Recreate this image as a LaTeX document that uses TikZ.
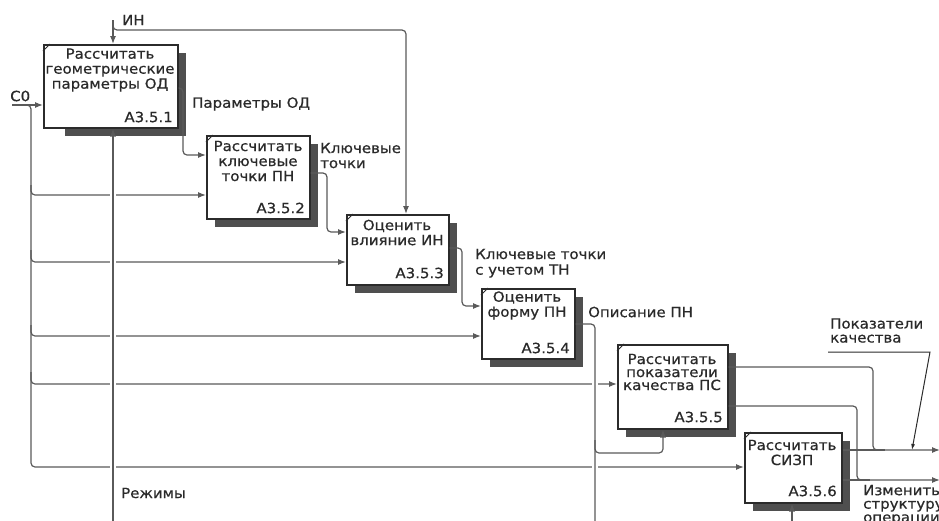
\documentclass[tikz,border=0pt]{standalone}
\usepackage{fontspec}
\setmainfont{DejaVu Sans}[FakeStretch=1.07, FakeBold=0.6]
\usetikzlibrary{arrows.meta}
\definecolor{lnc}{HTML}{5A5A5A}
\definecolor{bxc}{HTML}{2B2B2B}
\definecolor{shc}{HTML}{4F4F4F}
\definecolor{txc}{HTML}{2A2A2A}
\newcommand\fsz{\fontsize{14}{15}\selectfont}
\newcommand\idefbox[6]{%
  \fill[shc] (#2+#6,#3+9) rectangle (#4+9,#5+9);
  \node[boxst, minimum width={#4-#2}, minimum height={#5-#3}, anchor=north west] (#1) at (#2,#3) {};
  \draw[bxc, line width=0.8pt] (#2,#3+7) -- (#2+7,#3);
}
\begin{document}
\begin{tikzpicture}[x=1pt,y=-1pt,
  boxst/.style={draw=bxc, fill=white, line width=1.5pt, inner sep=0pt},
  txt/.style={text=txc, font=\fsz, inner sep=0pt},
  conn/.style={draw=lnc, line width=1.2pt, rounded corners=4pt},
  arr/.style={conn, -{Latex[length=8pt,width=6pt]}},
  gap/.style={draw=white, line width=6pt}
]
\clip (0,0) rectangle (939,520);
\fill[white] (0,0) rectangle (939,520);

% boxes
\idefbox{b1}{43}{44}{177}{127}{22}
\idefbox{b2}{206}{135}{309}{218}{9}
\idefbox{b3}{346}{214}{448}{284}{9}
\idefbox{b4}{481}{288}{574}{358}{9}
\idefbox{b5}{617}{344}{727}{428}{9}
\idefbox{b6}{744}{432}{841}{502}{9}

% box texts
\node[txt, align=center] (t1) at (110,70) {Рассчитать\\геометрические\\параметры ОД};
\node[txt, align=center] (t2) at (258,161) {Рассчитать\\ключевые\\точки ПН};
\node[txt, align=center] (t3) at (397,232.5) {Оценить\\влияние ИН};
\node[txt, align=center] (t4) at (527,305.5) {Оценить\\форму ПН};
\node[txt, align=center, font=\fontsize{14}{13}\selectfont] (t5) at (672,372) {Рассчитать\\показатели\\качества ПС};
\node[txt, align=center] (t6) at (792,452.5) {Рассчитать\\СИЗП};
\node[txt, anchor=east] (n1) at (173,117) {A3.5.1};
\node[txt, anchor=east] (n2) at (305,208) {A3.5.2};
\node[txt, anchor=east] (n3) at (444,273) {A3.5.3};
\node[txt, anchor=east] (n4) at (570,348) {A3.5.4};
\node[txt, anchor=east] (n5) at (723,417) {A3.5.5};
\node[txt, anchor=east] (n6) at (837,491) {A3.5.6};

% free ends
\coordinate (IN) at (113,20);
\coordinate (C0) at (12,105);
\coordinate (RZ) at (113,522);
\coordinate (OP) at (595,522);
\coordinate (MB) at (792,522);
\coordinate (O1) at (940,450);
\coordinate (O2) at (940,480);
\coordinate (LD) at (828,352);

% ИН
\draw[arr] (IN) -- (b1.north -| IN);
\draw[arr] (113,26) -- (113,30) -- (406,30) -- (b3.north -| 406,0);

% C0
\draw[arr] (C0) -- (b1.west |- C0);
\draw[arr] (25,105) -- (31,105) -- (31,467) -- (b6.west |- 0,467);
\draw[arr] (31,185) -- (31,195) -- (b2.west |- 0,195);
\draw[arr] (31,250) -- (31,262) -- (b3.west |- 0,262);
\draw[arr] (31,325) -- (31,336) -- (b4.west |- 0,336);
\draw[arr] (31,372) -- (31,384) -- (b5.west |- 0,384);

% outputs between boxes
\draw[arr] (b1.east |- 0,88) -- (183,88) -- (183,155) -- (b2.west |- 0,155);
\draw[arr] (b2.east |- 0,173) -- (327,173) -- (327,232) -- (b3.west |- 0,232);
\draw[arr] (b3.east |- 0,248) -- (462,248) -- (462,306) -- (b4.west |- 0,306);

% gaps at crossings, then vertical lines
\draw[gap] (113,150) -- (113,480);
\draw[gap] (595,372) -- (595,475);
\draw[arr] (RZ) -- (b1.south -| RZ);
\draw[conn] (b4.east |- 0,324) -- (595,324) -- (OP);
\draw[arr] (595,440) -- (595,453) -- (663,453) -- (b5.south -| 663,0);
\draw[arr] (MB) -- (b6.south -| MB);

% outputs to the right
\draw[arr] (b5.east |- 0,367) -- (873,367) -- (873,450) -- (O1);
\draw[arr] (b5.east |- 0,406) -- (857,406) -- (857,480) -- (O2);
\draw[conn] (b6.east |- 0,450) -- (885,450);
\draw[conn] (b6.east |- 0,480) -- (870,480);
\draw[draw=bxc, line width=1pt, -{Latex[length=6pt,width=4pt]}] (LD) -- (930,352) -- (912,450);

% labels
\node[txt, anchor=west] (lIN) at (122,20) {ИН};
\node[txt, anchor=west] (lC0) at (10,96) {С0};
\node[txt, anchor=west] (lPOD) at (192,104) {Параметры ОД};
\node[txt, anchor=west, align=left] (lKT) at (320,155.5) {Ключевые\\точки};
\node[txt, anchor=west] (lKT1) at (475,254) {Ключевые точки};
\node[txt, anchor=west] (lKT2) at (475,271) {с учетом ТН};
\node[txt, anchor=west] (lOP) at (588,312) {Описание ПН};
\node[txt, anchor=west, align=left, font=\fontsize{14}{14}\selectfont] (lPK) at (830,330.5) {Показатели\\качества};
\node[txt, anchor=west] (lRZ) at (121,493) {Режимы};
\node[txt, anchor=west, align=left, font=\fontsize{14}{13.5}\selectfont] (lIS) at (863,505) {Изменить\\структуру\\операции};
\end{tikzpicture}
\end{document}
